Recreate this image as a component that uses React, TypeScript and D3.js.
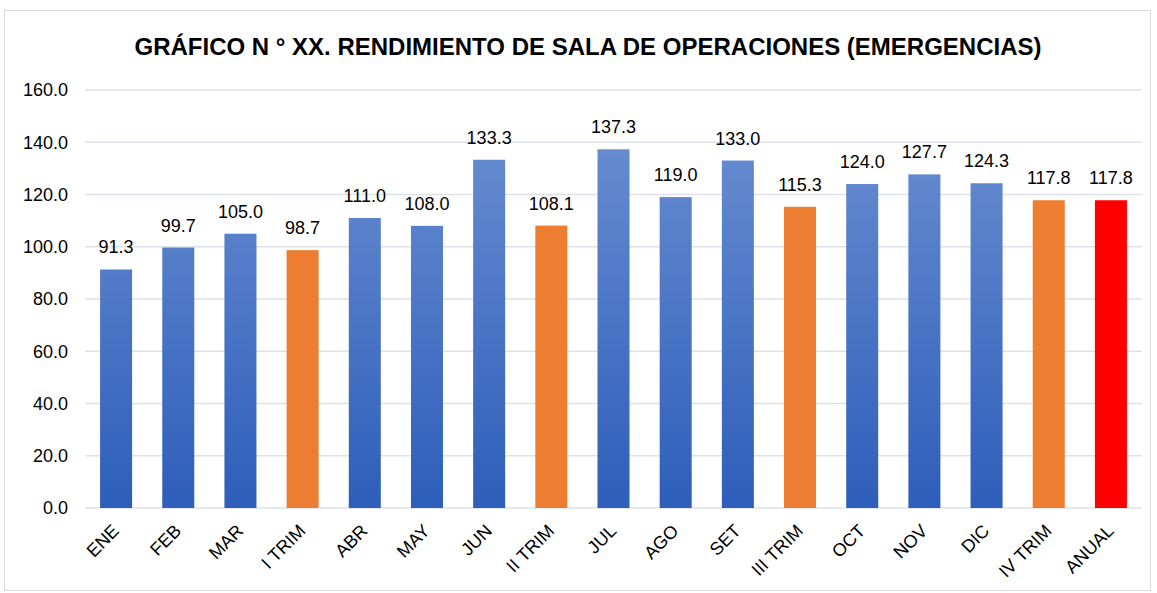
import * as d3 from 'd3';

const CATEGORIES = ['ENE', 'FEB', 'MAR', 'I TRIM', 'ABR', 'MAY', 'JUN', 'II TRIM', 'JUL', 'AGO', 'SET', 'III TRIM', 'OCT', 'NOV', 'DIC', 'IV TRIM', 'ANUAL'];
const VALUES = [91.3, 99.7, 105.0, 98.7, 111.0, 108.0, 133.3, 108.1, 137.3, 119.0, 133.0, 115.3, 124.0, 127.7, 124.3, 117.8, 117.8];
const KINDS = ['m', 'm', 'm', 't', 'm', 'm', 'm', 't', 'm', 'm', 'm', 't', 'm', 'm', 'm', 't', 'a'];
const Y_TICKS = [0, 20, 40, 60, 80, 100, 120, 140, 160];
const TITLE = 'GRÁFICO N ° XX. RENDIMIENTO DE SALA DE OPERACIONES (EMERGENCIAS)';

const W = 1157;
const H = 593;
const PLOT = { left: 85, right: 1142, top: 90, bottom: 508 };
const FONT = '"Liberation Sans", Arial, sans-serif';

const App = () => {
    const x = d3.scaleBand<string>().domain(CATEGORIES).range([PLOT.left, PLOT.right]).paddingInner(0.485).paddingOuter(0.2425);
    const y = d3.scaleLinear().domain([0, 160]).range([PLOT.bottom, PLOT.top]);

    const fillFor = (k: string) => (k === 't' ? '#ED7D31' : k === 'a' ? '#FF0000' : 'url(#blueGrad)');

    return (
        <svg width={W} height={H} style={{ position: 'absolute', left: 0, top: 0, fontFamily: FONT }}>
            <defs>
                <linearGradient id="blueGrad" gradientUnits="userSpaceOnUse" x1="0" y1={y(160)} x2="0" y2={y(0)}>
                    <stop offset="0" stopColor="#6e92d3" />
                    <stop offset="1" stopColor="#2d5eba" />
                </linearGradient>
            </defs>
            <rect x={0} y={0} width={W} height={H} fill="#fff" />
            <rect x={4.5} y={10.5} width={1146} height={580} fill="none" stroke="#d9d9d9" strokeWidth={1} />
            <text x={588} y={55} textAnchor="middle" fontSize={24} fontWeight="bold" fill="#000">
                {TITLE}
            </text>
            {Y_TICKS.map((t) => (
                <g key={t}>
                    <line x1={PLOT.left} x2={PLOT.right} y1={y(t)} y2={y(t)} stroke="#dde1e8" strokeWidth={1.5} />
                    <text x={68} y={y(t)} dy="0.35em" textAnchor="end" fontSize={18} fill="#000">
                        {t.toFixed(1)}
                    </text>
                </g>
            ))}
            {CATEGORIES.map((c, i) => {
                const bx = x(c)!;
                const cx = bx + x.bandwidth() / 2;
                return (
                    <g key={c}>
                        <rect x={bx} y={y(VALUES[i])} width={x.bandwidth()} height={y(0) - y(VALUES[i])} fill={fillFor(KINDS[i])} />
                        <text x={cx} y={y(VALUES[i]) - 16} textAnchor="middle" fontSize={18} fill="#000">
                            {VALUES[i].toFixed(1)}
                        </text>
                        <text
                            transform={`translate(${cx + 4},${PLOT.bottom + 24}) rotate(-45)`}
                            textAnchor="end"
                            fontSize={18}
                            fill="#000"
                        >
                            {c}
                        </text>
                    </g>
                );
            })}
        </svg>
    );
};

export default App;
